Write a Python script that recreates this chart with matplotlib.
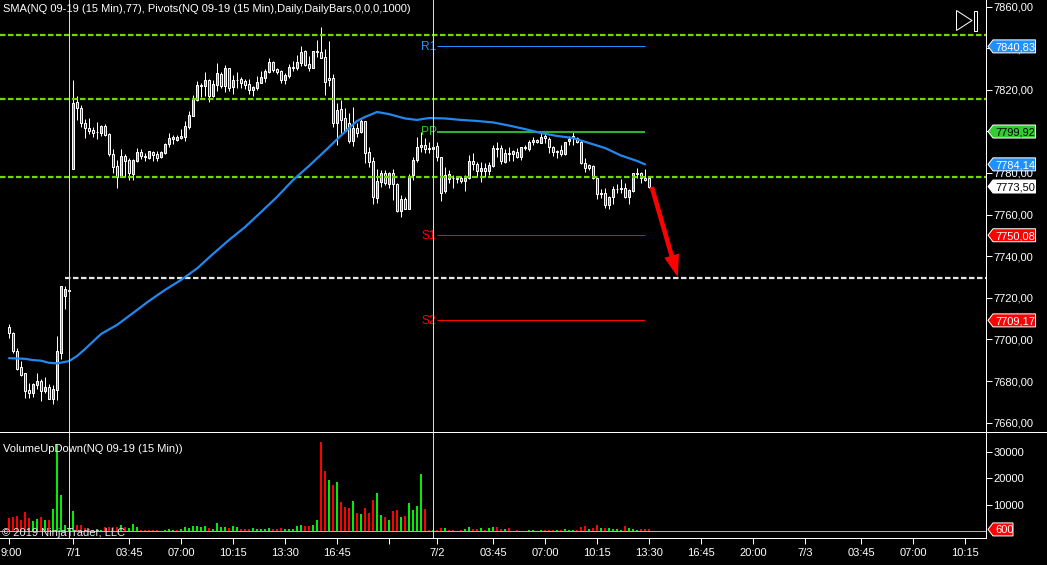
import matplotlib
matplotlib.use("Agg")
import matplotlib.pyplot as plt
from matplotlib.lines import Line2D
from matplotlib.patches import Polygon, Rectangle
from matplotlib.transforms import IdentityTransform, ScaledTranslation

plt.rcParams['font.family'] = ['Liberation Sans', 'DejaVu Sans']
plt.rcParams['lines.scale_dashes'] = False

opens = [7705.8,7703.3,7694.5,7686.6,7683.7,7675.7,7674.4,7678.1,7679.9,7675.4,
7677.2,7671.4,7675.7,7693.7,7721.0,7723.4,7781.7,7814.1,7811.0,7803.8,
7801.4,7800.5,7799.5,7799.4,7802.4,7798.5,7788.9,7783.3,7777.9,7788.1,
7786.0,7779.5,7785.9,7789.9,7788.1,7787.2,7790.1,7788.9,7787.8,7789.8,
7794.1,7796.5,7796.0,7796.8,7797.4,7802.2,7807.4,7815.1,7822.0,7821.8,
7824.5,7817.0,7822.3,7827.4,7821.8,7830.3,7821.5,7824.5,7825.0,7824.0,
7822.6,7819.9,7820.8,7823.4,7825.6,7828.7,7833.2,7829.8,7828.8,7824.8,
7826.8,7830.4,7830.6,7833.0,7838.6,7832.2,7830.6,7838.4,7838.3,7835.6,
7825.5,7825.5,7804.2,7810.7,7806.3,7803.9,7795.5,7801.5,7799.9,7804.8,
7789.9,7785.6,7768.1,7775.8,7779.8,7774.7,7779.8,7774.5,7761.9,7767.3,
7762.8,7779.0,7786.2,7792.3,7793.3,7792.2,7792.3,7793.0,7787.5,7771.3,
7776.9,7777.4,7777.4,7777.6,7776.3,7777.4,7785.6,7784.5,7781.1,7782.6,
7780.9,7783.5,7791.4,7791.8,7785.4,7789.0,7789.0,7789.9,7787.7,7791.8,
7791.7,7794.9,7796.0,7794.6,7797.6,7796.2,7792.6,7790.7,7790.9,7789.3,
7795.2,7796.8,7796.8,7795.0,7784.6,7783.7,7783.2,7777.4,7770.2,7770.2,
7764.8,7768.6,7772.1,7772.3,7772.6,7768.3,7771.5,7779.5,7779.8,7777.6,7777.4]
closes = [7703.0,7694.5,7685.8,7683.0,7675.4,7674.4,7678.6,7679.9,7675.4,7677.2,
7671.4,7676.2,7694.5,7725.7,7724.3,7723.8,7813.4,7811.0,7803.8,7801.4,
7800.3,7799.4,7799.5,7802.4,7798.2,7789.1,7783.0,7777.9,7788.1,7785.9,
7780.1,7786.0,7789.9,7788.1,7787.5,7790.4,7788.8,7787.2,7790.1,7793.8,
7796.6,7797.4,7797.3,7797.6,7802.4,7807.7,7815.4,7822.1,7822.4,7824.5,
7817.1,7822.6,7827.9,7822.0,7830.3,7821.0,7824.7,7824.5,7823.2,7822.3,
7819.9,7821.3,7823.5,7825.9,7829.0,7833.2,7829.5,7828.7,7824.8,7826.9,
7830.9,7830.9,7833.2,7838.0,7831.9,7830.4,7838.4,7838.1,7835.4,7823.9,
7824.8,7804.2,7810.2,7805.5,7800.3,7795.5,7801.5,7799.4,7804.8,7789.8,
7785.4,7768.3,7776.1,7779.8,7775.3,7779.8,7774.5,7761.9,7767.3,7762.7,
7778.5,7786.2,7792.3,7793.3,7791.4,7791.7,7791.4,7787.5,7770.5,7779.2,
7779.4,7777.4,7776.9,7776.3,7777.6,7785.6,7784.3,7781.1,7782.6,7781.1,
7783.7,7791.8,7791.8,7785.9,7789.4,7789.4,7790.4,7787.9,7792.3,7792.6,
7794.9,7795.7,7794.7,7797.1,7796.7,7792.6,7789.9,7789.9,7789.0,7794.9,
7796.2,7797.6,7795.0,7784.6,7782.6,7782.6,7777.4,7770.0,7769.7,7764.8,
7768.6,7772.1,7772.5,7772.9,7768.3,7771.8,7779.8,7779.8,7777.6,7776.8,7773.5]
highs = [7707.5,7703.6,7695.8,7689.7,7683.7,7679.0,7679.3,7683.7,7681.0,7681.8,
7678.6,7678.1,7701.7,7725.7,7725.7,7725.0,7824.7,7817.0,7812.6,7805.9,
7806.4,7802.2,7804.5,7803.2,7803.5,7799.4,7791.3,7786.2,7791.3,7789.1,
7787.0,7786.5,7792.0,7791.3,7789.4,7790.7,7790.7,7790.7,7790.7,7794.6,
7799.0,7798.2,7798.2,7801.1,7804.8,7809.6,7817.5,7824.2,7823.0,7828.5,
7825.0,7824.7,7832.8,7828.5,7831.7,7830.3,7827.1,7828.5,7826.3,7825.0,
7825.0,7821.8,7826.6,7829.0,7829.8,7835.4,7833.8,7830.6,7829.5,7827.9,
7832.4,7833.6,7836.7,7840.9,7839.1,7836.2,7838.4,7843.9,7850.0,7839.4,
7843.4,7827.4,7813.4,7815.1,7811.1,7809.0,7811.6,7803.9,7806.3,7804.8,
7792.3,7787.8,7781.8,7781.4,7781.4,7780.6,7781.8,7775.0,7769.4,7768.6,
7779.5,7787.8,7797.5,7799.9,7797.0,7795.0,7794.6,7795.0,7787.8,7782.7,
7781.4,7779.0,7778.5,7778.5,7778.9,7788.6,7789.8,7785.4,7785.4,7785.0,
7785.4,7793.4,7795.0,7793.4,7791.4,7792.3,7791.0,7791.8,7792.6,7793.4,
7795.9,7797.5,7796.2,7799.4,7799.1,7797.5,7793.0,7791.0,7793.4,7795.0,
7797.8,7799.7,7797.5,7795.9,7787.2,7784.3,7783.8,7777.4,7772.1,7772.6,
7769.0,7773.7,7774.5,7776.9,7775.0,7772.1,7780.1,7782.2,7780.6,7781.8,7777.9]
lows = [7700.9,7693.7,7685.5,7682.5,7671.9,7671.9,7672.5,7676.0,7670.6,7674.4,
7671.4,7669.0,7670.9,7690.6,7714.7,7722.0,7781.7,7805.4,7801.9,7797.0,
7798.7,7797.1,7796.5,7797.8,7797.8,7788.1,7780.1,7772.9,7777.9,7777.9,
7776.6,7776.6,7785.4,7786.5,7785.7,7786.5,7785.7,7785.7,7787.2,7789.1,
7792.6,7793.9,7795.2,7796.2,7795.5,7801.3,7807.4,7814.6,7816.7,7817.1,
7814.3,7816.7,7819.5,7821.0,7819.1,7819.4,7818.0,7820.7,7820.8,7820.2,
7818.0,7817.0,7819.9,7823.1,7823.7,7828.2,7828.4,7827.5,7823.2,7822.7,
7825.8,7829.2,7829.5,7831.6,7831.4,7829.2,7830.6,7835.9,7835.1,7817.5,
7821.8,7802.2,7793.4,7799.1,7800.0,7794.3,7793.0,7797.5,7799.1,7784.6,
7782.7,7765.1,7765.4,7773.4,7774.2,7772.6,7767.0,7761.4,7758.7,7762.5,
7762.5,7776.6,7785.4,7790.2,7789.4,7789.8,7787.8,7785.9,7766.7,7770.5,
7775.3,7772.9,7775.3,7775.0,7771.3,7776.9,7781.4,7777.9,7775.8,7778.2,
7779.0,7783.0,7787.8,7784.3,7785.0,7785.9,7785.9,7787.0,7786.2,7791.0,
7790.7,7793.4,7794.6,7794.2,7794.2,7789.4,7788.2,7787.0,7788.2,7788.6,
7793.4,7793.4,7794.2,7784.3,7780.6,7781.4,7776.9,7767.3,7767.8,7763.0,
7762.7,7764.9,7770.2,7770.5,7767.8,7765.1,7771.0,7777.4,7775.3,7776.1,7772.6]

sma_index = [0,4,6,8,10,12,15,17,19,23,27,31,35,39,43,47,51,55,59,63,67,71,75,79,83,87,89,92,95,
99,102,105,109,113,117,121,125,129,133,137,141,145,149,153,157,159]
sma_values = [7691.0,7690.7,7690.1,7689.8,7688.8,7688.5,7689.6,7692.0,7695.4,7702.6,7707.0,7712.7,
7718.5,7723.8,7728.6,7734.1,7741.1,7747.8,7754.0,7761.2,7768.5,7776.6,7783.4,7790.6,7798.0,7805.0,
7806.9,7809.3,7808.3,7806.2,7805.5,7806.4,7806.2,7805.5,7805.0,7804.3,7802.8,7801.1,7799.2,7797.8,
7796.8,7794.4,7792.0,7788.4,7785.8,7784.14]

volumes = [4950,5330,5580,4180,7230,4950,3800,4560,5330,4180,
4180,8370,32700,13690,2280,1000,7610,2280,2280,1140,
760,380,760,380,1520,1520,1520,1520,2280,1650,
1140,2660,1520,380,380,380,380,380,130,380,
760,380,380,760,1520,1140,1900,1900,1520,1900,
1140,760,3040,1520,1520,1140,1900,1520,760,760,
760,1140,760,760,760,1140,760,760,1140,760,
760,760,1900,2280,1900,1900,2280,4180,33860,22820,
19400,17500,18640,11030,9130,8750,11410,6850,6470,8750,
6850,11790,14450,6090,5330,4180,7610,7990,5330,5700,
10650,7990,9510,21680,8370,380,380,380,1140,1140,
380,380,130,380,760,1520,760,760,1140,380,
1140,1520,1520,760,760,1140,130,380,130,130,
380,380,130,380,380,380,380,380,380,760,
380,380,380,1520,1900,760,1140,2280,1140,1140,
1140,760,760,380,1900,1140,760,380,760,760,600]
volume_dirs = ("RRRRRRGGRG" "RGGGGGGRRR" "RRGGRRRRGR" "GGGRRRRRGG" "GGRGGGGGGG"
               "RGGGGRGGRR" "RGGGGGRRRG" "GGGGRRGGRR" "GRGRRRGRGR" "RRGGRGRRGR"
               "GGGGRRGRRG" "RRRRGGRRGR" "GGRRGRGRGG" "GGRGRRRGRG" "GGRRRGRRGR"
               "GGGGRGGGRRR")

ref_levels_green = [7846.2, 7815.4, 7777.9]
ref_level_white = 7729.4
pivot_values = [7840.83, 7799.92, 7750.08, 7709.17]
pivot_names = ['R1', 'PP', 'S1', 'S2']
pivot_colors = ['#1e90ff', '#2fae2f', '#ff0000', '#ff0000']
pivot_label_colors = ['#1e90ff', '#2fbf2f', '#ff0000', '#ff0000']
session_breaks = [15, 106]

time_ticks = [0,16,30,43,56,69,82,95,107,121,134,147,160,173,186,199,213,226,239]
time_labels = ['9:00','7/1','03:45','07:00','10:15','13:30','16:45','','7/2','03:45','07:00','10:15',
               '13:30','16:45','20:00','7/3','03:45','07:00','10:15']
price_ticks = list(range(7660, 7861, 20))
volume_ticks = [10000, 20000, 30000]

assert len(opens) == len(closes) == len(highs) == len(lows) == len(volumes) == len(volume_dirs) == 161, \
    (len(opens), len(closes), len(highs), len(lows), len(volumes), len(volume_dirs))

W, H = 1047, 565
AX_RIGHT, PRICE_BOTTOM, VOL_BOTTOM = 986.0, 431.0, 538.0
X0 = 9.0
PX = 0.72
FS = 8.05

fig = plt.figure(figsize=(W/100, H/100), dpi=100, facecolor='black')
ax = fig.add_axes([0, (H-PRICE_BOTTOM)/H, AX_RIGHT/W, PRICE_BOTTOM/H], facecolor='black')
av = fig.add_axes([0, (H-VOL_BOTTOM)/H, AX_RIGHT/W, (VOL_BOTTOM-PRICE_BOTTOM)/H], facecolor='black')

xlim = (-X0/4, (AX_RIGHT-X0)/4)
ax.set_xlim(*xlim)
av.set_xlim(*xlim)
ax.set_ylim(7860-(PRICE_BOTTOM-6.5)/2.081, 7860+6.5/2.081)
av.set_ylim(-(VOL_BOTTOM-531.0)/26.3*10000, (531.0-PRICE_BOTTOM)/26.3*10000)

idx = list(range(len(opens)))
BLUE = '#5a94e6'
wicks = ax.vlines(idx, lows, highs, color='white', lw=PX, zorder=2)
wicks.set_snap(True)
for i, o, c in zip(idx, opens, closes):
    ax.bar(i, abs(c-o), bottom=min(o, c), width=0.5,
           color=BLUE if c >= o else '#ff0000', edgecolor='white', linewidth=PX, zorder=3)

DASH = (0, (3.96, 1.8))
for lev in ref_levels_green:
    ax.plot(xlim, [lev, lev], color='#72d800', lw=1.6, ls=DASH, dash_capstyle='butt', zorder=4)
ax.plot([14, xlim[1]], [ref_level_white]*2, color='#e6e6e6', lw=1.6, ls=DASH,
        dash_capstyle='butt', zorder=4)

for val, name, col, lc, lw in zip(pivot_values, pivot_names, pivot_colors, pivot_label_colors,
                                  [PX, 1.5, PX, PX]):
    ax.plot([107, 159], [val, val], color=col, lw=lw, solid_capstyle='butt', zorder=4)
    ax.text(103.1, val-0.2, name, color=lc, fontsize=FS+0.6, ha='left', va='center', zorder=5)

ax.plot(sma_index, sma_values, color='#2288ee', lw=1.6, solid_capstyle='round', zorder=5)

ax.annotate('', xy=(167.2, 7730.0), xytext=(160.7, 7773.3),
            arrowprops=dict(facecolor='#ff0000', edgecolor='#ff0000', width=3.3, headwidth=11,
                            headlength=16, linewidth=0), zorder=6)

for a in (ax, av):
    for b in session_breaks:
        a.axvline(b, color='#d8d8d8', lw=PX, zorder=7)
    for s in ('top', 'left'):
        a.spines[s].set_visible(False)
    a.spines['right'].set_color('white')
    a.spines['right'].set_linewidth(PX)
    a.spines['bottom'].set_color('white')
    a.spines['bottom'].set_linewidth(PX)
    a.yaxis.tick_right()
    a.tick_params(axis='y', colors='white', length=4.6, width=PX, pad=0.8, labelsize=FS)
    a.tick_params(axis='x', colors='white', length=4.6, width=PX, pad=2.4, labelsize=FS)

ax.set_xticks([])
ax.set_yticks(price_ticks)
ax.set_yticklabels([f'{p},00' for p in price_ticks])

for i, v, d in zip(idx, volumes, volume_dirs):
    av.bar(i, v, width=0.5, color='#00ee00' if d == 'G' else '#ff0000', linewidth=0, zorder=2)
av.axhline(0, color='#b0b0b0', lw=PX, zorder=3)
av.set_yticks(volume_ticks)
av.set_yticklabels([str(v) for v in volume_ticks])
av.set_xticks(time_ticks)
av.set_xticklabels(time_labels)
first = av.get_xticklabels()[0]
first.set_transform(first.get_transform() + ScaledTranslation(2/100, 0, fig.dpi_scale_trans))


def fy(y):
    return H - y


fig.add_artist(Line2D([0, W], [fy(431.5)]*2, color='white', lw=PX, transform=IdentityTransform()))
fig.text(3/W, 1-8.5/H, 'SMA(NQ 09-19 (15 Min),77), Pivots(NQ 09-19 (15 Min),Daily,DailyBars,0,0,0,1000)',
         color='white', fontsize=FS, ha='left', va='center')
fig.text(3/W, 1-449.5/H, 'VolumeUpDown(NQ 09-19 (15 Min))', color='white', fontsize=FS, ha='left', va='center')
fig.text(2.5/W, 1-532.5/H, '\u00a9 2019 NinjaTrader, LLC', color='#e8e8e8', fontsize=FS, ha='left', va='center')

fig.add_artist(Polygon([(956.5, fy(10.5)), (956.5, fy(30.5)), (972, fy(20.5))], closed=True, fill=False,
                       edgecolor='white', lw=PX, transform=IdentityTransform()))
fig.add_artist(Rectangle((973.5, fy(30.5)), 3, 20, fill=False, edgecolor='white', lw=PX,
                         transform=IdentityTransform()))


def flag(a, val, text, fc, tc, right=1035.5):
    yc = a.transData.transform((0, val))[1]
    pts = [(988, yc), (993, yc+6.5), (right, yc+6.5), (right, yc-6.5), (993, yc-6.5)]
    fig.add_artist(Polygon(pts, closed=True, facecolor=fc, edgecolor='white', lw=PX,
                           transform=IdentityTransform()))
    fig.text(995/W, yc/H, text, color=tc, fontsize=FS, ha='left', va='center_baseline', zorder=5)


flag(ax, 7840.83, '7840,83', '#1e90ff', 'white')
flag(ax, 7799.92, '7799,92', '#32cd32', 'black')
flag(ax, 7784.14, '7784,14', '#1e90ff', 'white')
flag(ax, 7773.50, '7773,50', 'white', 'black')
flag(ax, 7750.08, '7750,08', '#ff0000', 'white')
flag(ax, 7709.17, '7709,17', '#ff0000', 'white')
flag(av, volumes[-1], str(volumes[-1]), '#ff0000', 'white', right=1013)

fig.savefig('out.png', dpi=100, facecolor='black')
